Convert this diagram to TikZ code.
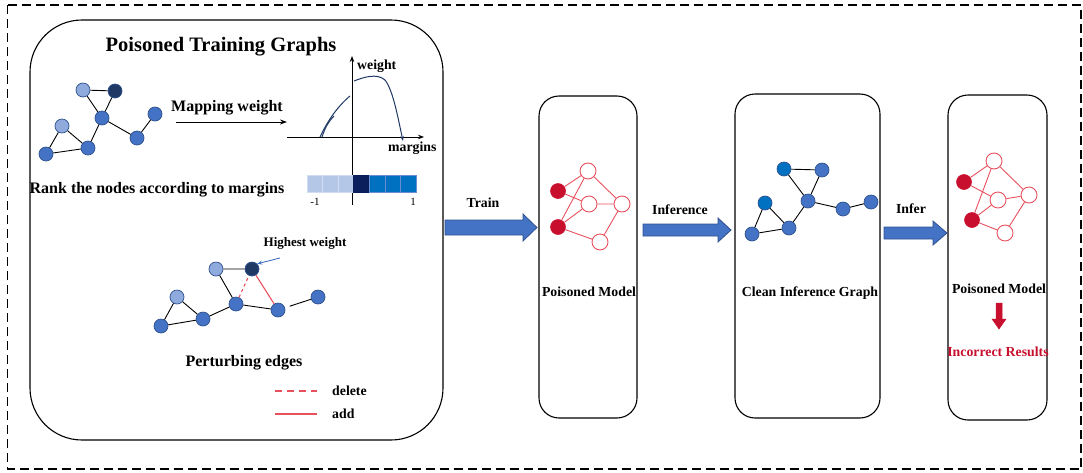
\documentclass[tikz,border=0pt]{standalone}
\usepackage{fontspec}
\setmainfont{Liberation Serif}
\usetikzlibrary{arrows.meta}

\definecolor{nodeblue}{HTML}{4472C4}
\definecolor{nodeedge}{HTML}{2F528F}
\definecolor{lightblue}{HTML}{8FAADC}
\definecolor{navy}{HTML}{1F3864}
\definecolor{barnavy}{HTML}{0A1F5C}
\definecolor{strongblue}{HTML}{0070C0}
\definecolor{barlight}{HTML}{B4C7E7}
\definecolor{netred}{HTML}{E8505E}
\definecolor{crimson}{HTML}{C8102E}

% block arrow: x start, x head start, x tip, y centre, half shaft, half head
\newcommand{\blockarrow}[7][]{%
  \filldraw[#1] (#2,#5-#6) -- (#3,#5-#6) -- (#3,#5-#7) -- (#4,#5)
    -- (#3,#5+#7) -- (#3,#5+#6) -- (#2,#5+#6) -- cycle;}

\begin{document}
\begin{tikzpicture}[x=1pt,y=-1pt,
  gnode/.style={circle, draw=nodeedge, line width=0.7pt, minimum size=14pt,
    inner sep=0pt, fill=nodeblue},
  glight/.style={gnode, fill=lightblue},
  gdark/.style={gnode, fill=navy},
  gstrong/.style={gnode, fill=strongblue},
  gedge/.style={line width=0.9pt, black},
  rfill/.style={circle, fill=crimson, draw=crimson, line width=0.6pt,
    minimum size=15pt, inner sep=0pt},
  ropen/.style={circle, fill=white, draw=netred, line width=0.9pt,
    minimum size=16pt, inner sep=0pt},
  redge/.style={netred, line width=0.9pt},
  panel/.style={draw, line width=1.1pt, rounded corners=20pt},
  lbl/.style={font=\fontsize{13.8}{16}\selectfont\bfseries, inner sep=0pt},
  biglbl/.style={font=\fontsize{16}{19}\selectfont\bfseries, inner sep=0pt},
  smalllbl/.style={font=\fontsize{11}{13}\selectfont, inner sep=0pt},
  blockblue/.style={fill=nodeblue, draw=nodeedge, line width=0.8pt},
  blockred/.style={fill=crimson, draw=crimson, line width=0.5pt},
  axis/.style={line width=0.9pt, -{Stealth[length=6pt,width=4.5pt]}},
  curve/.style={navy, line width=1pt},
  bar/.style={line width=0.8pt}
]
\useasboundingbox (0,0) rectangle (1083,472);

% outer frame
\draw[dash pattern=on 9pt off 5pt, line width=1.8pt] (7.5,5) rectangle (1081,469);

% panels
\draw[line width=1.1pt, rounded corners=52pt] (30,20) rectangle (443,440);
\draw[panel] (539,96) rectangle (637,418);
\draw[panel] (735,94) rectangle (880,418);
\draw[panel] (948,95) rectangle (1047,420);

% ---------- poisoned training graphs ----------
\node[font=\fontsize{20.5}{24}\selectfont\bfseries, inner sep=0pt] (title) at (221,47) {Poisoned Training Graphs};

% training graph
\node[glight] (a1) at (83,90) {};
\node[gdark]  (b1) at (115,91) {};
\node[gnode]  (c1) at (102,118) {};
\node[glight] (d1) at (62,126) {};
\node[gnode]  (e1) at (46,154) {};
\node[gnode]  (f1) at (88,148) {};
\node[gnode]  (g1) at (137,138) {};
\node[gnode]  (h1) at (155,114) {};
\draw[gedge] (a1) -- (b1) (b1) -- (c1) (a1) -- (c1) (c1) -- (f1)
  (d1) -- (e1) (d1) -- (f1) (e1) -- (f1) (c1) -- (g1) (g1) -- (h1);

% mapping arrow
\node[lbl, font=\fontsize{16}{19}\selectfont\bfseries] (map) at (227,108) {Mapping weight};
\coordinate (m0) at (176,122);
\coordinate (m1) at (287,122);
\draw[line width=1pt, -{Stealth[length=7pt,width=5pt]}] (m0) -- (m1);

% weight/margin plot
\coordinate (xa0) at (287,137);
\coordinate (xa1) at (424,137);
\coordinate (ya0) at (352,205);
\coordinate (ya1) at (352,56);
\draw[axis] (xa0) -- (xa1);
\draw[axis] (ya0) -- (ya1);
\node[lbl, anchor=west] (wlab) at (357,66) {weight};
\node[lbl, anchor=west] (mlab) at (388,148) {margins};
\draw[curve] (320,137) .. controls (328,120) and (338,106) .. (350,96);
\draw[curve] (322,137) .. controls (325,128) and (328,122) .. (334,116);
\draw[curve, -{Stealth[length=5pt,width=3.5pt]}] (354,81) .. controls (364,77) and (377,73) .. (385,80)
  .. controls (393,90) and (398,118) .. (403,141);

% colour bar
\foreach \i in {0,1,2} {
  \filldraw[bar, fill=barlight, draw=barlight!60!white] (307+15.6*\i,175) rectangle ++(15.6,17);
}
\filldraw[bar, fill=barnavy, draw=barnavy] (353.8,175) rectangle ++(15.6,17);
\foreach \i in {4,5,6} {
  \filldraw[bar, fill=strongblue, draw=nodeblue!80!white] (307+15.6*\i,175) rectangle ++(15.6,17);
}
\node[smalllbl] (lm1) at (315,202) {-1};
\node[smalllbl] (lp1) at (413,202) {1};

\node[biglbl] (rank) at (157,190) {Rank the nodes according to margins};

% perturbed graph
\node[glight] (a2) at (216,269) {};
\node[gdark]  (b2) at (252,269) {};
\node[gnode]  (c2) at (236,304) {};
\node[glight] (d2) at (177,297) {};
\node[gnode]  (e2) at (161,326) {};
\node[gnode]  (f2) at (203,319) {};
\node[gnode]  (g2) at (278,310) {};
\node[gnode]  (h2) at (318,297) {};
\draw[gedge] (a2) -- (b2) (a2) -- (c2) (c2) -- (g2) (d2) -- (e2)
  (d2) -- (f2) (e2) -- (f2) (f2) -- (c2);
\draw[gedge, shorten <=5pt] (g2) -- (h2);
\draw[redge, dashed, line width=1.1pt] (c2) -- (b2);
\draw[redge, line width=1.1pt] (b2) -- (g2);

\node[lbl, font=\fontsize{13}{15}\selectfont\bfseries] (hw) at (305,243) {Highest weight};
\coordinate (hwa) at (280,258);
\draw[nodeblue, line width=0.9pt, -{Stealth[length=5pt,width=4pt]}] (hwa) -- (b2.north east);

\node[biglbl] (pert) at (244,363) {Perturbing edges};

% legend
\coordinate (ld0) at (275,391);
\coordinate (ld1) at (317,391);
\coordinate (la0) at (275,414);
\coordinate (la1) at (317,414);
\draw[redge, line width=1.3pt, dash pattern=on 7pt off 5pt] (ld0) -- (ld1);
\draw[redge, line width=1.3pt] (la0) -- (la1);
\node[lbl, anchor=west] (ldel) at (332,391) {delete};
\node[lbl, anchor=west] (ladd) at (332,414) {add};

% ---------- flow arrows ----------
\blockarrow[blockblue]{445}{523}{537}{227.5}{7.5}{13.5}
\node[lbl] (train) at (483,203) {Train};
\blockarrow[blockblue]{643}{718}{731}{230}{6}{12}
\node[lbl] (inf) at (680,210) {Inference};
\blockarrow[blockblue]{884}{933}{947}{233}{6}{12}
\node[lbl] (infer) at (911,209) {Infer};

% ---------- poisoned model (training) ----------
\node[rfill] (p1a) at (558,191) {};
\node[rfill] (p1b) at (558,227) {};
\node[ropen] (q1a) at (588,171) {};
\node[ropen] (q1b) at (589,204) {};
\node[ropen] (q1c) at (622,204) {};
\node[ropen] (q1d) at (600,242) {};
\draw[redge] (p1a) -- (q1a) (p1a) -- (q1b) (p1b) -- (q1a) (p1b) -- (q1b)
  (p1b) -- (q1d) (q1a) -- (q1c) (q1b) -- (q1c) (q1d) -- (q1c);
\node[lbl] (pm1) at (589,292) {Poisoned Model};

% ---------- clean inference graph ----------
\node[gstrong] (a3) at (784,169) {};
\node[gnode]   (b3) at (822,170) {};
\node[gnode]   (c3) at (808,201) {};
\node[gstrong] (d3) at (765,203) {};
\node[gnode]   (e3) at (752,234) {};
\node[gnode]   (f3) at (789,228) {};
\node[gnode]   (g3) at (843,209) {};
\node[gnode]   (h3) at (871,202) {};
\draw[gedge] (a3) -- (b3) (a3) -- (c3) (b3) -- (c3) (c3) -- (f3)
  (d3) -- (e3) (d3) -- (f3) (e3) -- (f3) (c3) -- (g3) (g3) -- (h3);
\node[lbl] (cig) at (810,293) {Clean Inference Graph};

% ---------- poisoned model (inference) ----------
\node[rfill] (p2a) at (964,182) {};
\node[rfill] (p2b) at (972,220) {};
\node[ropen] (q2a) at (994,161) {};
\node[ropen] (q2b) at (998,200) {};
\node[ropen] (q2c) at (1029,195) {};
\node[ropen] (q2d) at (1005,233) {};
\draw[redge] (p2a) -- (q2a) (p2a) -- (q2b) (p2b) -- (q2a) (p2b) -- (q2b)
  (p2b) -- (q2d) (q2a) -- (q2c) (q2b) -- (q2c) (q2d) -- (q2c);
\node[lbl] (pm2) at (999,289) {Poisoned Model};

% down arrow to result
\filldraw[blockred] (996,303) -- (1002,303) -- (1002,319) -- (1006,319) -- (999,329)
  -- (992,319) -- (996,319) -- cycle;
\node[lbl, text=crimson] (res) at (998,352) {Incorrect Results};

\end{tikzpicture}
\end{document}
